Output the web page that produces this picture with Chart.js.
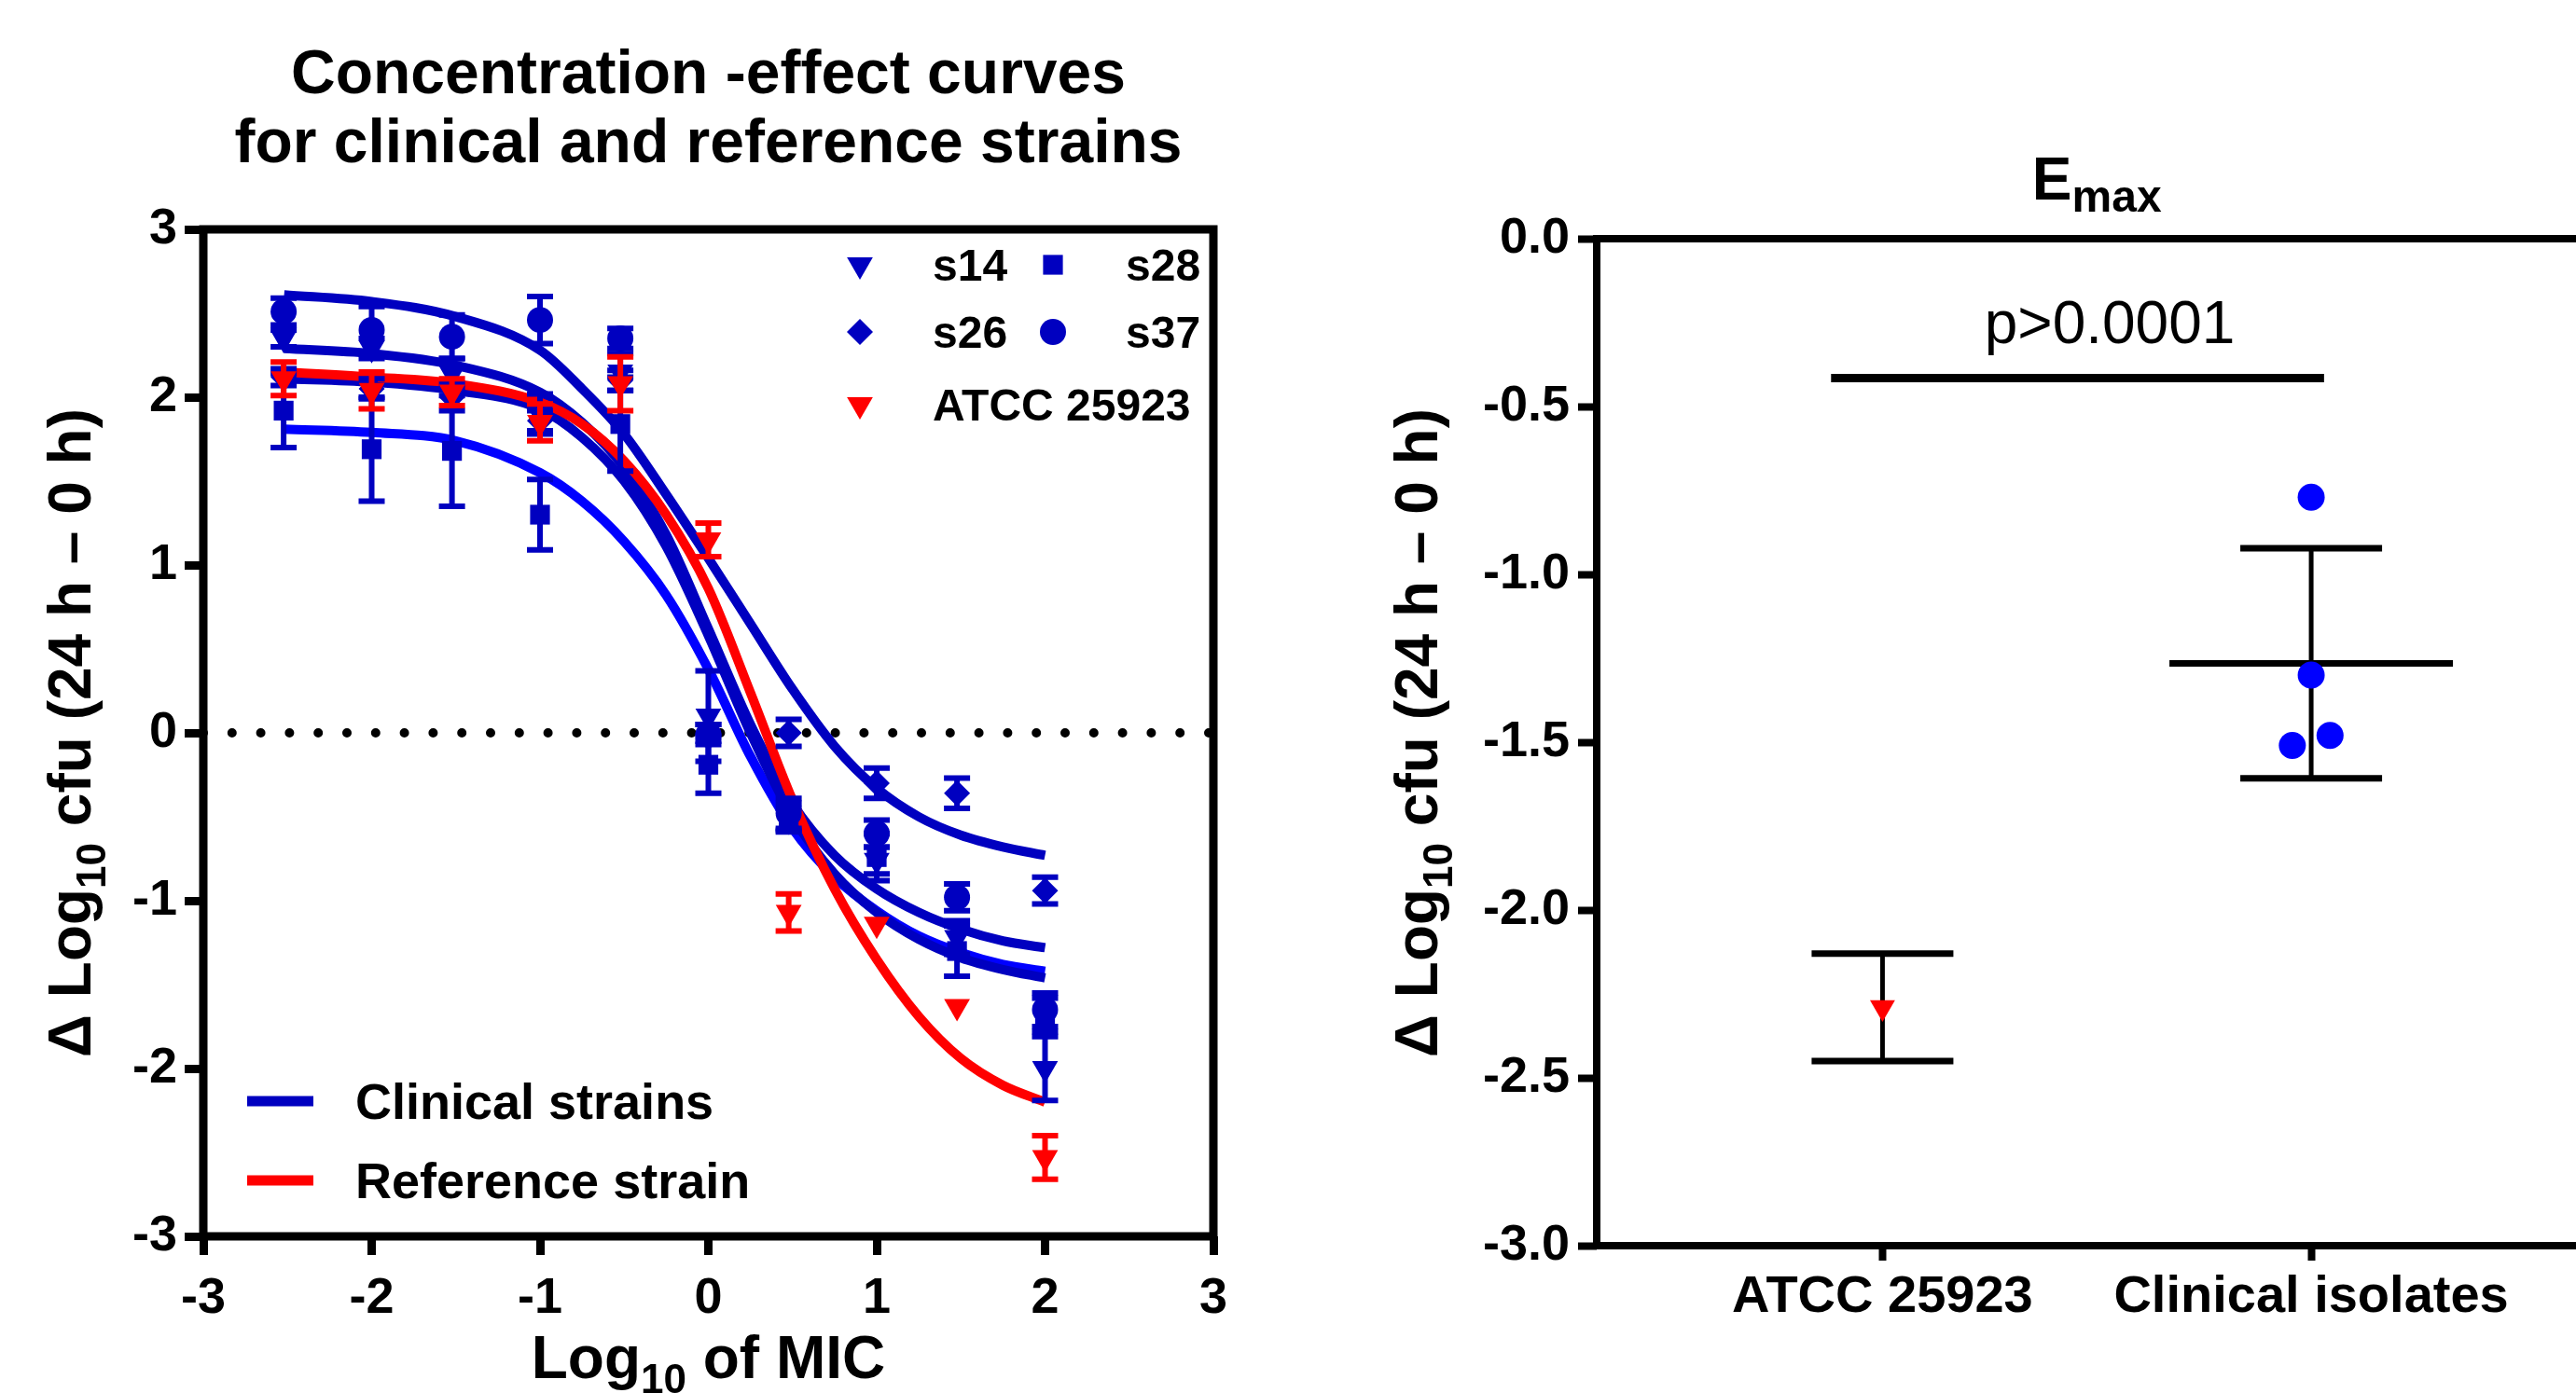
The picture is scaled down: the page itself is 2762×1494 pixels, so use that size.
<!DOCTYPE html>
<html>
<head>
<meta charset="utf-8">
<title>Concentration-effect curves and Emax</title>
<script src="https://cdn.jsdelivr.net/npm/chart.js@4.4.1/dist/chart.umd.min.js"></script>
<style>
  html, body { margin: 0; padding: 0; background: #fff; overflow: hidden; }
  body { width: 2762px; height: 1494px; position: relative; }
  #curves { position: absolute; left: 0; top: 0; }
  #emax { position: absolute; left: 1450px; top: 0; }
</style>
</head>
<body>
<canvas id="curves" width="1400" height="1494"></canvas>
<canvas id="emax" width="1350" height="1494"></canvas>
<script>
// ---- values ----

// drug concentration as multiples of the MIC (x axis is log10 of these)
const micMultiples = [0.003, 0.01, 0.03, 0.1, 0.3, 1, 3, 10, 30, 100];

// mean change in log10 cfu (24 h - 0 h) and SD, per strain (0 = bar hidden by the marker)
const s14Mean = [2.35, 2.29, 2.14, 1.90, 2.15, 0.10, -0.52, -0.76, -1.22, -2.00];
const s14Sd   = [0.05, 0.06, 0.09, 0.12, 0.11, 0.27, 0.07, 0.08, 0.10, 0.19];
const s26Mean = [2.12, 2.05, 2.00, 1.86, 2.10, 0.00, 0.00, -0.30, -0.36, -0.94];
const s26Sd   = [0.05, 0.06, 0.08, 0.06, 0.06, 0.05, 0.08, 0.09, 0.09, 0.08];
const s28Mean = [1.92, 1.69, 1.68, 1.30, 1.84, -0.19, -0.50, -0.74, -1.30, -1.68];
const s28Sd   = [0.22, 0.31, 0.33, 0.21, 0.28, 0.17, 0.08, 0.14, 0.15, 0.10];
const s37Mean = [2.51, 2.40, 2.36, 2.46, 2.35, -0.01, -0.48, -0.60, -0.98, -1.65];
const s37Sd   = [0.08, 0.14, 0.13, 0.14, 0.06, 0.06, 0.09, 0.08, 0.08, 0.10];
const atccMean = [2.11, 2.04, 2.03, 1.85, 2.08, 1.15, -1.07, -1.14, -1.63, -2.53];
const atccSd   = [0.10, 0.11, 0.08, 0.11, 0.16, 0.10, 0.11, 0, 0, 0.13];

// fitted curves, read at these log10 MIC positions
const fitX    = [-2.52, -2, -1.5, -1, -0.75, -0.5, -0.25, 0, 0.25, 0.5, 0.75, 1, 1.25, 1.5, 1.75, 2];
const fitTop  = [2.61, 2.57, 2.48, 2.28, 2.05, 1.78, 1.42, 1.04, 0.65, 0.26, -0.08, -0.33, -0.50, -0.61, -0.68, -0.73];
const fitS37  = [2.29, 2.26, 2.19, 2.03, 1.85, 1.58, 1.18, 0.62, 0.05, -0.42, -0.73, -0.93, -1.07, -1.17, -1.24, -1.28];
const fitS14  = [2.11, 2.09, 2.04, 1.93, 1.76, 1.50, 1.11, 0.58, 0.00, -0.50, -0.84, -1.07, -1.23, -1.34, -1.41, -1.46];
const fitS28  = [1.81, 1.79, 1.74, 1.55, 1.38, 1.14, 0.82, 0.38, -0.14, -0.57, -0.86, -1.06, -1.21, -1.31, -1.38, -1.42];
const fitAtcc = [2.15, 2.12, 2.08, 1.97, 1.84, 1.62, 1.30, 0.86, 0.24, -0.40, -0.93, -1.35, -1.69, -1.94, -2.10, -2.20];

// Emax panel
const emaxGroups = ['ATCC 25923', 'Clinical isolates'];
const atccEmax = [-2.29];
const atccEmaxSd = [0.16];
const clinicalEmax = [-0.77, -1.30, -1.48, -1.51];
const pValueText = 'p>0.0001';

// tick values
const curveTicks = [-3, -2, -1, 0, 1, 2, 3];
const emaxTicks = [0, -0.5, -1, -1.5, -2, -2.5, -3];

// ---- styling ----
const DARK_BLUE = '#0000c0';
const BRIGHT_BLUE = '#0000ff';
const RED = '#ff0000';
const FAMILY = "'Liberation Sans', Arial, sans-serif";
Chart.defaults.font.family = FAMILY;
Chart.defaults.color = '#000';

function font(size, bold = true) {
  return (bold ? 'bold ' : '') + size + 'px ' + FAMILY;
}

// text made of pieces, so that subscripts can be shifted down
function drawRich(ctx, pieces, x, y, align) {
  let total = 0;
  pieces.forEach(p => {
    ctx.font = font(p.size, p.bold !== false);
    p.w = ctx.measureText(p.text).width;
    total += p.w;
  });
  let cx = align === 'center' ? x - total / 2 : x;
  ctx.textAlign = 'left';
  ctx.textBaseline = 'alphabetic';
  pieces.forEach(p => {
    ctx.font = font(p.size, p.bold !== false);
    ctx.fillText(p.text, cx, y + (p.dy || 0));
    cx += p.w;
  });
}

// same shapes as the Chart.js point styles, for the legends
function drawMarker(ctx, shape, x, y, r, color) {
  ctx.save();
  ctx.fillStyle = color;
  ctx.beginPath();
  if (shape === 'circle') {
    ctx.arc(x, y, r, 0, Math.PI * 2);
  } else if (shape === 'rect') {
    const s = Math.SQRT1_2 * r;
    ctx.rect(x - s, y - s, 2 * s, 2 * s);
  } else if (shape === 'rectRot') {
    ctx.moveTo(x - r, y); ctx.lineTo(x, y - r); ctx.lineTo(x + r, y); ctx.lineTo(x, y + r);
    ctx.closePath();
  } else {
    const h = r * Math.sin(Math.PI / 3);
    ctx.moveTo(x, y + r); ctx.lineTo(x - h, y - r / 2); ctx.lineTo(x + h, y - r / 2);
    ctx.closePath();
  }
  ctx.fill();
  ctx.restore();
}

const logMic = micMultiples.map(m => Math.log10(m));
const toPoints = (xs, ys) => xs.map((x, i) => ({ x: x, y: ys[i] }));

// marker series, first one is drawn on top
const markerSets = [
  { label: 'ATCC 25923', mean: atccMean, sd: atccSd, color: RED, shape: 'triangleDown', radius: 16 },
  { label: 's37', mean: s37Mean, sd: s37Sd, color: DARK_BLUE, shape: 'circle', radius: 14 },
  { label: 's28', mean: s28Mean, sd: s28Sd, color: DARK_BLUE, shape: 'rect', radius: 15 },
  { label: 's14', mean: s14Mean, sd: s14Sd, color: DARK_BLUE, shape: 'triangleDown', radius: 16 },
  { label: 's26', mean: s26Mean, sd: s26Sd, color: DARK_BLUE, shape: 'rectRot', radius: 14 }
];
const fitSets = [
  { label: 'ATCC 25923 fit', values: fitAtcc, color: RED },
  { label: 'top fit', values: fitTop, color: DARK_BLUE },
  { label: 's37 fit', values: fitS37, color: DARK_BLUE },
  { label: 's14 fit', values: fitS14, color: DARK_BLUE },
  { label: 's28 fit', values: fitS28, color: BRIGHT_BLUE }
];

const curveDatasets = markerSets.map(m => ({
  label: m.label,
  data: toPoints(logMic, m.mean),
  sd: m.sd,
  showLine: false,
  pointStyle: m.shape === 'triangleDown' ? 'triangle' : m.shape,
  rotation: m.shape === 'triangleDown' ? 180 : 0,
  pointRadius: m.radius,
  pointBorderWidth: 0,
  pointBackgroundColor: m.color,
  backgroundColor: m.color,
  borderColor: m.color
})).concat(fitSets.map(f => ({
  label: f.label,
  data: toPoints(fitX, f.values),
  showLine: true,
  cubicInterpolationMode: 'monotone',
  pointRadius: 0,
  borderWidth: 10,
  borderColor: f.color,
  fill: false
})));

// vertical SD bars, drawn right before the markers of the same series
const errorBars = {
  id: 'errorBars',
  beforeDatasetDraw(chart, args) {
    const ds = chart.data.datasets[args.index];
    if (!ds.sd) return;
    const { ctx, scales: { x, y } } = chart;
    ctx.save();
    ctx.strokeStyle = ds.borderColor;
    ctx.lineWidth = 6;
    ds.data.forEach((pt, i) => {
      if (!ds.sd[i]) return;
      const px = x.getPixelForValue(pt.x);
      const top = y.getPixelForValue(pt.y + ds.sd[i]);
      const bot = y.getPixelForValue(pt.y - ds.sd[i]);
      ctx.beginPath();
      ctx.moveTo(px, top); ctx.lineTo(px, bot);
      ctx.moveTo(px - 14, top); ctx.lineTo(px + 14, top);
      ctx.moveTo(px - 14, bot); ctx.lineTo(px + 14, bot);
      ctx.stroke();
    });
    ctx.restore();
  }
};

const yTitle = [
  { text: '\u0394 Log', size: 64 },
  { text: '10', size: 44, dy: 16 },
  { text: ' cfu (24 h \u2013 0 h)', size: 64 }
];

function drawYTitle(ctx, x, y) {
  ctx.save();
  ctx.fillStyle = '#000';
  ctx.translate(x, y);
  ctx.rotate(-Math.PI / 2);
  drawRich(ctx, yTitle, 0, 0, 'center');
  ctx.restore();
}

const curveDecor = {
  id: 'curveDecor',
  beforeDatasetsDraw(chart) {
    const { ctx, chartArea: a, scales: { y } } = chart;
    const py = y.getPixelForValue(0);
    ctx.save();
    ctx.strokeStyle = '#000';
    ctx.lineWidth = 10;
    ctx.lineCap = 'round';
    ctx.setLineDash([0, 30.8]);
    ctx.beginPath();
    ctx.moveTo(a.left, py);
    ctx.lineTo(a.right, py);
    ctx.stroke();
    ctx.restore();
  },
  afterDraw(chart) {
    const { ctx, chartArea: a } = chart;
    const cx = (a.left + a.right) / 2;
    ctx.save();
    ctx.strokeStyle = '#000';
    ctx.lineWidth = 9;
    ctx.strokeRect(a.left, a.top, a.right - a.left, a.bottom - a.top);

    ctx.fillStyle = '#000';
    ctx.textAlign = 'center';
    ctx.textBaseline = 'alphabetic';
    ctx.font = font(66);
    ctx.fillText('Concentration -effect curves', cx, 100);
    ctx.fillText('for clinical and reference strains', cx, 174);

    drawRich(ctx, [
      { text: 'Log', size: 64 },
      { text: '10', size: 44, dy: 16 },
      { text: ' of MIC', size: 64 }
    ], cx, 1478, 'center');
    drawYTitle(ctx, 97, 786);

    // symbol legend, two columns
    const rows = [['s14', 's28'], ['s26', 's37'], ['ATCC 25923']];
    const rowY = [284, 356, 434];
    const colX = [922, 1129];
    rows.forEach((row, r) => {
      row.forEach((label, c) => {
        const m = markerSets.find(s => s.label === label);
        drawMarker(ctx, m.shape, colX[c], rowY[r], m.radius, m.color);
        ctx.fillStyle = '#000';
        ctx.textAlign = 'left';
        ctx.font = font(48);
        ctx.fillText(label, colX[c] + 78, rowY[r] + 17);
      });
    });

    // line legend
    const lines = [
      { label: 'Clinical strains', color: DARK_BLUE, y: 1181 },
      { label: 'Reference strain', color: RED, y: 1266 }
    ];
    lines.forEach(l => {
      ctx.strokeStyle = l.color;
      ctx.lineWidth = 11;
      ctx.beginPath();
      ctx.moveTo(265, l.y);
      ctx.lineTo(336, l.y);
      ctx.stroke();
      ctx.fillStyle = '#000';
      ctx.font = font(54);
      ctx.textAlign = 'left';
      ctx.fillText(l.label, 381, l.y + 19);
    });
    ctx.restore();
  }
};

const axisGrid = { drawOnChartArea: false, drawTicks: true, tickLength: 20, tickWidth: 9, tickColor: '#000' };

new Chart(document.getElementById('curves'), {
  type: 'scatter',
  data: { datasets: curveDatasets },
  options: {
    responsive: false,
    animation: false,
    devicePixelRatio: 1,
    layout: { padding: { left: 0, top: 246, right: 99, bottom: 0 } },
    plugins: { legend: { display: false }, tooltip: { enabled: false } },
    scales: {
      x: {
        type: 'linear', min: -3, max: 3,
        afterBuildTicks: s => { s.ticks = curveTicks.map(v => ({ value: v })); },
        ticks: { font: { size: 54, weight: 'bold' }, color: '#000', padding: 15, maxRotation: 0 },
        grid: axisGrid,
        border: { display: false },
        afterFit: s => { s.height = 168; }
      },
      y: {
        type: 'linear', min: -3, max: 3,
        afterBuildTicks: s => { s.ticks = curveTicks.map(v => ({ value: v })); },
        ticks: { font: { size: 54, weight: 'bold' }, color: '#000', padding: 8 },
        grid: axisGrid,
        border: { display: false },
        afterFit: s => { s.width = 218; }
      }
    }
  },
  plugins: [errorBars, curveDecor]
});

// ---- Emax panel ----

// spread points that would overlap (simple beeswarm)
function swarm(values, center) {
  const idx = values.map((v, i) => i).sort((a, b) => values[a] - values[b]);
  const xs = new Array(values.length).fill(center);
  let group = [idx[0]];
  const flush = () => {
    group.forEach((g, k) => { xs[g] = center + (k - (group.length - 1) / 2) * 0.088; });
  };
  for (let k = 1; k < idx.length; k++) {
    if (values[idx[k]] - values[idx[k - 1]] < 0.06) group.push(idx[k]);
    else { flush(); group = [idx[k]]; }
  }
  flush();
  return xs;
}

const clinicalX = swarm(clinicalEmax, 2);
const emaxSummary = [
  { x: 1, values: atccEmax, sd: atccEmaxSd[0] },
  { x: 2, values: clinicalEmax }
];
const sigBar = { from: 0.88, to: 2.03, y: -0.415, textX: 1.53, textY: -0.31 };

const emaxDecor = {
  id: 'emaxDecor',
  beforeDatasetsDraw(chart) {
    const { ctx, scales: { x, y } } = chart;
    ctx.save();
    ctx.strokeStyle = '#000';
    emaxSummary.forEach(g => {
      const n = g.values.length;
      const mean = g.values.reduce((s, v) => s + v, 0) / n;
      const sd = n > 1
        ? Math.sqrt(g.values.reduce((s, v) => s + (v - mean) * (v - mean), 0) / (n - 1))
        : g.sd;
      const px = x.getPixelForValue(g.x);
      const top = y.getPixelForValue(mean + sd);
      const bot = y.getPixelForValue(mean - sd);
      ctx.lineWidth = 5;
      ctx.beginPath();
      ctx.moveTo(px, top); ctx.lineTo(px, bot);
      ctx.stroke();
      ctx.lineWidth = 7;
      ctx.beginPath();
      ctx.moveTo(px - 76, top); ctx.lineTo(px + 76, top);
      ctx.moveTo(px - 76, bot); ctx.lineTo(px + 76, bot);
      if (n > 1) {
        const pm = y.getPixelForValue(mean);
        ctx.moveTo(px - 152, pm); ctx.lineTo(px + 152, pm);
      }
      ctx.stroke();
    });

    // significance bar
    ctx.lineWidth = 9;
    ctx.beginPath();
    ctx.moveTo(x.getPixelForValue(sigBar.from), y.getPixelForValue(sigBar.y));
    ctx.lineTo(x.getPixelForValue(sigBar.to), y.getPixelForValue(sigBar.y));
    ctx.stroke();
    ctx.fillStyle = '#000';
    ctx.font = font(64, false);
    ctx.textAlign = 'center';
    ctx.textBaseline = 'alphabetic';
    ctx.fillText(pValueText, x.getPixelForValue(sigBar.textX), y.getPixelForValue(sigBar.textY));
    ctx.restore();
  },
  afterDraw(chart) {
    const { ctx, chartArea: a } = chart;
    ctx.save();
    ctx.strokeStyle = '#000';
    ctx.lineWidth = 8;
    ctx.strokeRect(a.left, a.top, a.right - a.left, a.bottom - a.top);
    ctx.fillStyle = '#000';
    drawRich(ctx, [
      { text: 'E', size: 64 },
      { text: 'max', size: 48, dy: 13 }
    ], (a.left + a.right) / 2, 214, 'center');
    drawYTitle(ctx, 91, 786);
    ctx.restore();
  }
};

new Chart(document.getElementById('emax'), {
  type: 'scatter',
  data: {
    datasets: [
      {
        label: 'ATCC 25923',
        data: atccEmax.map(v => ({ x: 1, y: v })),
        pointStyle: 'triangle',
        rotation: 180,
        pointRadius: 15.5,
        pointBorderWidth: 0,
        pointBackgroundColor: RED
      },
      {
        label: 'Clinical isolates',
        data: toPoints(clinicalX, clinicalEmax),
        pointStyle: 'circle',
        pointRadius: 14.5,
        pointBorderWidth: 0,
        pointBackgroundColor: BRIGHT_BLUE
      }
    ]
  },
  options: {
    responsive: false,
    animation: false,
    devicePixelRatio: 1,
    layout: { padding: { left: 0, top: 256, right: 11, bottom: 0 } },
    plugins: { legend: { display: false }, tooltip: { enabled: false } },
    scales: {
      x: {
        type: 'linear', min: 1 / 3, max: 8 / 3,
        afterBuildTicks: s => { s.ticks = emaxGroups.map((g, i) => ({ value: i + 1 })); },
        ticks: {
          callback: v => emaxGroups[v - 1],
          font: { size: 56, weight: 'bold' }, color: '#000', padding: 6,
          autoSkip: false, maxRotation: 0
        },
        grid: { drawOnChartArea: false, drawTicks: true, tickLength: 16, tickWidth: 8, tickColor: '#000' },
        border: { display: false },
        afterFit: s => { s.height = 158; }
      },
      y: {
        type: 'linear', min: -3, max: 0,
        afterBuildTicks: s => { s.ticks = emaxTicks.map(v => ({ value: v })); },
        ticks: { callback: v => v.toFixed(1), font: { size: 54, weight: 'bold' }, color: '#000', padding: 9 },
        grid: { drawOnChartArea: false, drawTicks: true, tickLength: 20, tickWidth: 8, tickColor: '#000' },
        border: { display: false },
        afterFit: s => { s.width = 262; }
      }
    }
  },
  plugins: [emaxDecor]
});
</script>
</body>
</html>
